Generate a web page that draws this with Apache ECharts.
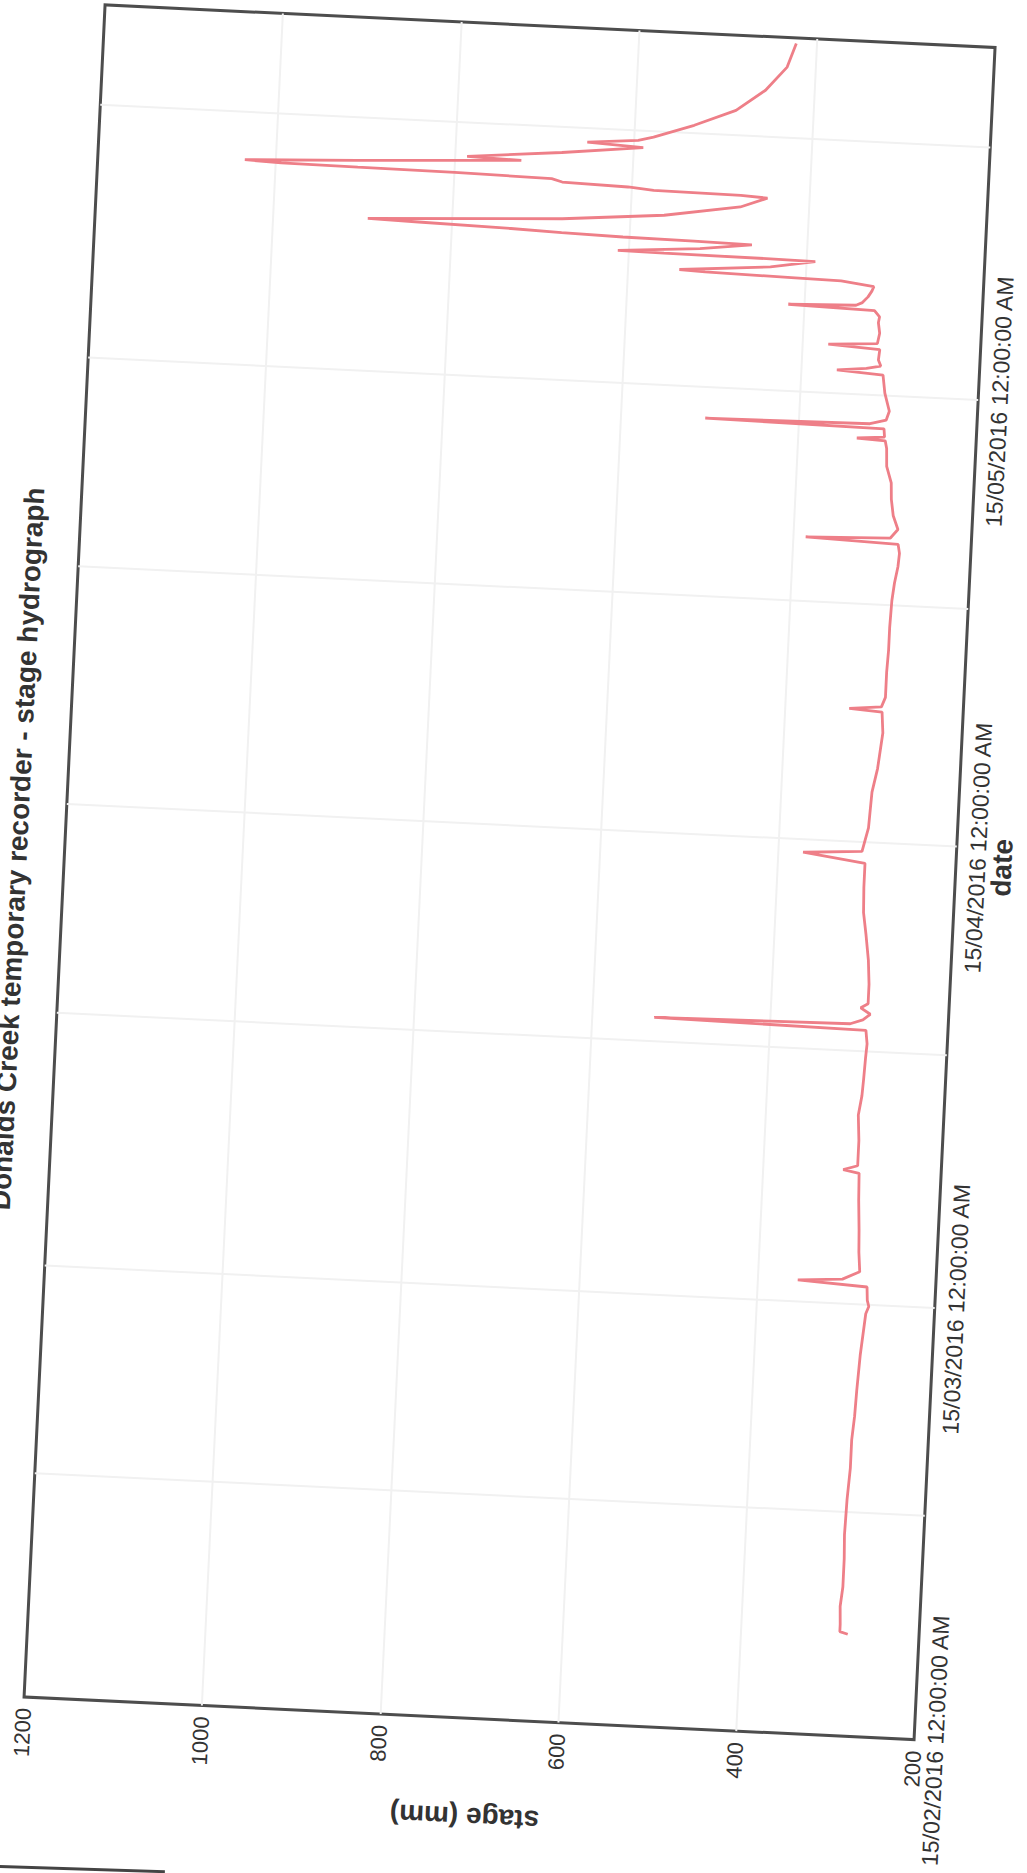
<!DOCTYPE html>
<html>
<head>
<meta charset="utf-8">
<script src="https://cdn.jsdelivr.net/npm/echarts@6/dist/echarts.min.js"></script>
<style>
html,body{margin:0;padding:0;background:#fff;overflow:hidden;width:1027px;height:1873px;}
#page{position:relative;width:1027px;height:1873px;overflow:hidden;background:#fff;}
#chart{position:absolute;left:-63.08px;top:1843px;width:1994px;height:1100px;transform-origin:0 0;transform:rotate(-87.26deg);}
#edge{position:absolute;left:0;top:1865px;width:165px;height:3px;background:#444;transform-origin:0 0;transform:rotate(1.8deg);}
</style>
</head>
<body>
<div id="page"><div id="chart"></div><div id="edge"></div></div>
<script>
// ---- data ----
const chartTitle = 'Donalds Creek temporary recorder - stage hydrograph';
const xName = 'date';
const yName = 'stage (mm)';
const startDate = [2016, 2, 15];          // 15/02/2016 00:00 (axis start)
const axisEndDay = 113.73;                 // axis end, days after start
const gridDates = [[2016,3,1],[2016,3,15],[2016,4,1],[2016,4,15],[2016,5,1],[2016,5,15],[2016,6,1]];
const labelDates = [[2016,2,15],[2016,3,15],[2016,4,15],[2016,5,15]];
const dateTickLabels = ['15/02/2016 12:00:00 AM','15/03/2016 12:00:00 AM','15/04/2016 12:00:00 AM','15/05/2016 12:00:00 AM'];
const stageTickLabels = [200, 400, 600, 800, 1000, 1200];
const stageGridValues = [400, 600, 800, 1000];

// days after 15/02/2016 00:00
const stageDays = [
  6.85, 7.0, 7.5, 8.7, 10.0, 11.9, 13.5, 15.9, 18.0, 19.9,
  21.5, 23.2, 25.6, 27.0, 28.4, 28.9, 29.3, 30.2, 30.45, 30.65,
  31.2, 32.5, 34.0, 36.0, 37.8, 38.0, 38.3, 40.0, 41.7, 43.0,
  44.1, 45.5, 46.5, 47.4, 47.6, 47.8, 48.1, 48.5, 48.9, 49.2,
  50.5, 52.1, 53.8, 55.3, 57.0, 58.6, 59.15, 59.4, 61.0, 62.2,
  63.4, 65.0, 66.2, 67.4, 68.8, 68.95, 69.15, 69.8, 71.5, 73.0,
  74.5, 76.3, 77.5, 78.6, 79.5, 80.1, 80.3, 80.5, 81.1, 82.0,
  83.1, 84.2, 85.3, 86.5, 87.0, 87.1, 87.25, 87.8, 87.95, 88.1,
  88.4, 89.0, 90.2, 91.4, 91.6, 91.8, 92.0, 92.4, 93.1, 93.3,
  93.5, 94.2, 94.9, 95.3, 95.7, 95.85, 96.0, 96.2, 96.6, 97.0,
  97.3, 97.59, 97.65, 97.75, 97.83, 98.3, 98.79, 98.84, 98.88, 98.92,
  99.3, 99.71, 99.78, 99.83, 99.92, 100.04, 100.18, 100.26, 100.86, 101.42,
  102.22, 102.9, 103.0, 103.06, 103.2, 103.32, 103.52, 103.62, 103.66, 103.7,
  103.8, 104.11, 104.64, 104.74, 105.3, 105.89, 106.08, 106.36, 106.62, 107.55,
  108.68, 110.13, 111.75, 113.36
];
const stageMm = [
  280, 289, 289, 290, 288, 288, 289, 288, 286, 286,
  284, 283, 281, 279, 277, 274, 276, 277, 355, 305,
  286, 288, 289, 291, 292, 310, 294, 294, 296, 293,
  292, 291, 290, 292, 530, 310, 296, 288, 299, 291,
  291, 293, 297, 301, 302, 302, 372, 306, 300, 299,
  298, 293, 291, 289, 291, 328, 292, 288, 288, 287,
  287, 286, 284, 281, 280, 282, 386, 291, 283, 289,
  292, 293, 299, 300, 302, 334, 303, 304, 505, 320,
  302, 299, 305, 308, 360, 327, 311, 314, 313, 371,
  316, 314, 316, 315, 321, 418, 342, 335, 329, 325,
  323, 360, 416, 513, 542, 440, 390, 445, 560, 612,
  520, 462, 527, 607, 676, 733, 837, 894, 676, 562,
  477, 447, 477, 575, 604, 678, 690, 799, 908, 994,
  1035, 909, 725, 786, 680, 589, 652, 595, 578, 533,
  487, 455, 432, 423
];

// ---- build ----
const DAY = 86400000;
const toTs = a => new Date(a[0], a[1] - 1, a[2]).getTime();
const t0 = toTs(startDate);
const tEnd = t0 + axisEndDay * DAY;
const gridTs = gridDates.map(toTs);
const labelTs = labelDates.map(toTs);
const seriesData = stageDays.map((d, i) => [t0 + d * DAY, stageMm[i]]);
const FONT = "'Liberation Sans', Arial, sans-serif";

function dateLabel(v) {
  for (let i = 0; i < labelTs.length; i++) {
    if (Math.abs(labelTs[i] - v) < 3600000) return dateTickLabels[i];
  }
  return '';
}

const chart = echarts.init(document.getElementById('chart'), null, {renderer: 'svg'});
chart.setOption({
  animation: false,
  backgroundColor: '#ffffff',
  title: {
    text: chartTitle, left: 'center', top: 19, padding: 0,
    textStyle: {fontFamily: FONT, fontSize: 28, fontWeight: 'bold', color: '#333'}
  },
  grid: {
    left: 150, top: 80, width: 1694, height: 891,
    show: true, borderColor: '#4d4d4d', borderWidth: 3, backgroundColor: '#fff',
    containLabel: false, outerBoundsMode: 'none'
  },
  xAxis: {
    type: 'value', min: t0, max: tEnd, scale: true,
    name: xName, nameLocation: 'middle', nameGap: 32, nameMoveOverlap: false,
    nameTextStyle: {fontFamily: FONT, fontSize: 28, fontWeight: 'bold', color: '#333', padding: [0, 0, 0, 56]},
    axisLine: {show: false},
    axisTick: {show: false, customValues: gridTs},
    axisLabel: {customValues: labelTs, formatter: dateLabel, margin: 10, fontSize: 23, color: '#333', fontFamily: FONT, hideOverlap: false},
    splitLine: {show: true, lineStyle: {color: '#f1f1f1', width: 2}}
  },
  yAxis: {
    type: 'value', min: 200, max: 1200, interval: 200,
    name: yName, nameLocation: 'middle', nameGap: 85, nameMoveOverlap: false,
    nameTextStyle: {fontFamily: FONT, fontSize: 28, fontWeight: 'bold', color: '#333'},
    axisLine: {show: false},
    axisTick: {show: false, customValues: stageGridValues},
    axisLabel: {customValues: stageTickLabels, formatter: v => String(v), margin: 11, fontSize: 22, color: '#333', fontFamily: FONT},
    splitLine: {show: true, lineStyle: {color: '#f1f1f1', width: 2}}
  },
  series: [{
    type: 'line', data: seriesData, showSymbol: false, symbol: 'none',
    lineStyle: {color: '#ee7f88', width: 2.8}, itemStyle: {color: '#ee7f88'}
  }]
});
</script>
</body>
</html>
